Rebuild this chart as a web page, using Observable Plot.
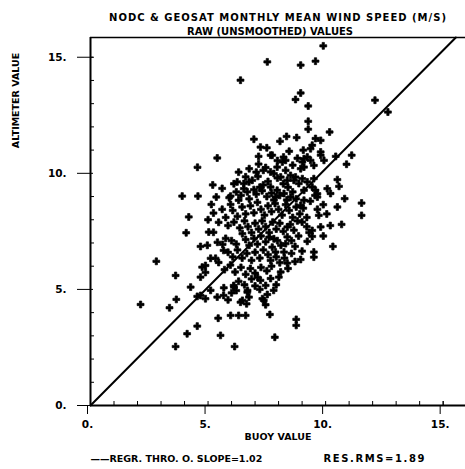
<!DOCTYPE html>
<html><head><meta charset="utf-8">
<script src="https://cdn.jsdelivr.net/npm/d3@7"></script>
<script src="https://cdn.jsdelivr.net/npm/@observablehq/plot@0.6"></script>
<style>
body{margin:0;background:#fff;}
#c{width:465px;height:469px;overflow:hidden;}
svg text{font-family:"DejaVu Sans",sans-serif;font-weight:bold;}
</style></head><body><div id="c"></div>
<script>
const titleLine1 = "NODC & GEOSAT MONTHLY MEAN WIND SPEED (M/S)";
const titleLine2 = "RAW (UNSMOOTHED) VALUES";
const xLabel = "BUOY VALUE";
const yLabel = "ALTIMETER VALUE";
const legendLabel = "\u2014\u2014REGR. THRO. O. SLOPE=1.02";
const rmsLabel = "RES.RMS=1.89";
const slope = 1.02;
const xMax = 15.95;
const yMax = 15.85;
const majorTicks = [0, 5, 10, 15];
const minorTicks = [1,2,3,4,6,7,8,9,11,12,13,14,15];
const majorTickLabels = ["0.", "5.", "10.", "15."];

// [buoy value, altimeter value]
const samples = [
  [7.52,14.80],[6.38,14.01],[9.90,15.49],[8.94,14.66],[9.57,14.83],[8.94,13.46],[8.72,13.18],[9.26,12.90],
  [12.10,13.15],[12.65,12.64],[9.26,12.24],[9.26,11.90],[10.17,11.78],[8.34,11.59],[8.06,11.38],[8.77,11.54],
  [9.57,11.50],[9.79,11.42],[9.43,11.21],[6.95,11.47],[7.23,11.13],[5.39,10.66],[7.15,10.73],[7.66,10.78],
  [4.55,10.26],[11.11,10.78],[10.43,10.73],[10.89,10.39],[7.73,10.78],[8.21,10.70],[9.79,10.78],
  [10.50,9.73],[10.57,9.44],[10.07,9.34],[10.21,9.13],[10.81,8.91],[10.50,8.55],[11.53,8.72],[11.53,8.19],
  [10.68,7.80],[9.79,7.69],[9.71,8.19],[10.31,6.85],[9.50,6.61],[9.50,6.39],[9.22,7.07],[8.94,6.29],
  [8.37,6.13],[8.09,5.75],[8.01,5.53],[9.43,7.54],[9.43,7.28],
  [3.90,9.02],[4.57,9.02],[5.35,8.98],[5.96,9.02],[5.14,8.66],[5.96,8.66],[6.30,8.84],[4.18,8.12],
  [5.23,8.29],[4.07,7.44],[2.80,6.21],[3.62,5.60],[4.26,5.10],[3.65,4.57],[3.36,4.21],[2.13,4.35],
  [4.68,5.53],[4.54,3.42],[4.11,3.09],[3.62,2.54],[5.43,3.76],[5.53,3.02],[6.13,2.54],[5.96,3.88],
  [6.30,3.88],[6.60,3.88],[7.84,2.94],[7.63,3.92],[7.37,4.53],[6.46,4.53],[6.74,4.67],[6.10,5.10],
  [5.67,5.07],[5.39,4.67],[4.89,4.60],[4.54,4.70],[4.75,5.96],[4.89,6.03],[4.68,6.85],[4.97,6.90],
  [5.03,7.47],[6.46,7.40],[8.75,3.71],[8.75,3.45],[7.52,4.78],[7.31,4.60],[7.45,4.34],[6.67,4.88],
  [6.38,4.45],[6.64,4.38],
  [5.45,7.89],[5.23,7.46],[5.40,7.03],[5.62,6.94],[5.66,6.68],[5.11,6.34],[5.32,6.34],[5.45,6.16],
  [4.89,5.73],[4.68,4.74],[5.11,4.96],[5.66,4.74],[6.09,5.17],[6.68,4.96],[7.11,5.52],[7.23,5.39],
  [7.66,5.47],[7.45,5.17],[7.79,4.96],
  [7.35,10.13],[7.12,9.87],[7.66,10.06],[6.24,9.63],[6.52,9.56],[6.74,9.63],[6.88,9.70],[6.52,9.34],[6.67,9.20],
  [9.36,11.06],[8.30,10.56],[8.16,10.49],[9.08,10.63],[9.22,10.70],[9.01,10.49],[9.36,10.56],[8.94,10.20],
  [9.08,10.27],[9.50,10.34],[9.79,10.92],[9.93,10.56],[7.94,10.27],[8.30,10.13],[7.80,9.99],[8.09,9.84],
  [8.37,9.70],[8.51,9.91],[8.72,9.84],[8.86,9.56],[9.01,9.77],[9.22,9.63],[9.50,9.77],[9.43,9.41],
  [7.66,9.41],[7.94,9.27],[8.23,9.13],[8.51,8.98],[7.87,8.98],[9.57,9.27],[9.65,8.98],[9.08,9.27],
  [9.65,9.12],[9.08,8.84],[8.94,8.62],
  [8.37,7.69],[8.37,7.26],[8.30,6.97],[8.23,6.61],[7.80,7.18],[7.73,6.82],[7.87,6.61],[7.66,6.25],
  [9.00,7.90],[9.20,7.70],[9.30,7.45],
  [6.05,8.40],[6.25,8.15],[6.45,8.55],[6.60,8.25],[6.80,8.60],[6.95,8.30],[7.10,8.75],[7.25,8.45],
  [7.40,8.20],[7.55,8.60],[7.70,8.35],[7.85,8.70],[8.00,8.45],[8.15,8.20],[8.30,8.65],[8.45,8.40],
  [8.60,8.10],[8.75,8.55],[8.90,8.25],[9.05,8.50],
  [6.10,7.90],[6.35,7.65],[6.55,7.95],[6.70,7.70],[6.85,7.45],[7.00,7.85],[7.15,7.60],[7.30,7.95],
  [7.45,7.70],[7.60,7.45],[7.75,7.90],[7.90,7.60],[8.05,7.85],[8.20,7.50],[8.50,7.80],[8.65,7.55],[8.80,7.95],
  [5.75,7.20],[6.00,7.10],[6.20,6.95],[6.60,7.15],[6.75,6.90],[6.95,7.20],[7.10,6.95],[7.25,7.30],
  [7.45,7.05],[7.60,7.25],[7.95,7.10],[8.10,6.90],[8.55,7.10],[8.70,6.85],[8.85,7.30],
  [5.85,6.60],[6.05,6.40],[6.25,6.70],[6.45,6.35],[6.65,6.55],[6.85,6.25],[7.00,6.60],[7.20,6.35],
  [7.35,6.70],[7.55,6.50],[7.90,6.40],[8.05,6.15],[8.25,6.35],[8.55,6.55],
  [5.70,5.85],[5.95,6.05],[6.15,5.75],[6.40,5.95],[6.60,5.65],[6.80,5.90],[7.00,5.70],[7.25,5.95],
  [7.50,5.80],[7.70,6.00],[6.30,5.35],[6.55,5.20],[6.85,5.45],[7.00,5.15],
  [6.40,9.05],[6.75,8.90],[7.05,9.10],[7.30,9.25],[7.50,9.00],[7.70,9.15],[7.35,9.50],[7.55,9.65],
  [7.20,9.40],[6.95,9.30],[7.80,8.85],[8.05,9.05],[8.35,8.85],[8.60,9.20],[8.75,8.90],[8.40,9.40],
  [8.65,9.70],[8.20,9.55],[7.95,9.80],[7.45,10.25],[7.15,10.40],[6.75,10.20],[7.95,10.55],[8.60,10.35],
  [8.80,10.65],[8.45,10.95],[9.05,11.00],[7.50,11.10],
  [5.60,8.45],[5.75,8.10],[5.85,7.75],[6.20,9.20],[5.60,9.35],[6.10,9.55],[6.60,9.85],[6.30,10.05],
  [7.05,10.05],[9.20,8.10],[9.35,8.80],[9.55,9.05],[9.65,8.45],[9.90,8.65],[10.05,8.25],[10.20,7.75],
  [9.90,7.30],[9.00,6.65],[8.70,6.20],[8.40,5.90],[6.00,4.85],[6.20,4.95],[5.85,4.55],[7.20,5.00],
  [7.90,5.20],[5.90,8.95],[5.20,9.50],[5.00,8.00]
];

const regression = [[0, 0], [yMax / slope, yMax]];

const chart = Plot.plot({
  width: 465,
  height: 469,
  marginLeft: 90,
  marginRight: 0,
  marginTop: 37,
  marginBottom: 64,
  style: {background: "#fff", color: "#000", fontSize: "10px", fontFamily: "DejaVu Sans, sans-serif"},
  x: {domain: [0, xMax]},
  y: {domain: [0, yMax]},
  marks: [
    Plot.ruleY([yMax], {stroke: "#000", strokeWidth: 1.5}),
    Plot.ruleX([0], {stroke: "#000", strokeWidth: 2}),
    Plot.ruleY([0], {stroke: "#000", strokeWidth: 2}),
    Plot.axisX({ticks: majorTicks, tickSize: 9, tickPadding: 6, tickWidth: 2, dx: -3,
      tickFormat: (d, i) => majorTickLabels[i], fontWeight: "bold", fontSize: 10.5, label: null}),
    Plot.axisX({ticks: majorTicks, tickSize: -4, tickWidth: 2, text: null, label: null}),
    Plot.axisX({ticks: minorTicks, tickSize: -4, tickWidth: 1.5, text: null, label: null}),
    Plot.axisY({ticks: majorTicks, tickSize: 13, tickPadding: 11, tickWidth: 2,
      tickFormat: (d, i) => majorTickLabels[i], fontWeight: "bold", fontSize: 10.5, label: null}),
    Plot.axisY({ticks: majorTicks, tickSize: -3, tickWidth: 2, text: null, label: null}),
    Plot.axisY({ticks: minorTicks, tickSize: -4, tickWidth: 1.5, text: null, label: null}),
    Plot.line(regression, {x: d => d[0], y: d => d[1], stroke: "#000", strokeWidth: 2}),
    Plot.dot(samples, {x: d => d[0], y: d => d[1], symbol: "cross", r: 2.9, fill: "#000", stroke: "#000", strokeWidth: 0.7}),
    Plot.text([titleLine1], {frameAnchor: "top", dy: -24, fontSize: 10, fontWeight: "bold"}),
    Plot.text([titleLine2], {frameAnchor: "top", dx: -8, dy: -10, fontSize: 10, fontWeight: "bold"}),
    Plot.text([xLabel], {frameAnchor: "bottom", dy: 34, fontSize: 9.5, fontWeight: "bold"}),
    Plot.text([yLabel], {frameAnchor: "left", textAnchor: "middle", dx: -75, dy: -121, rotate: -90, fontSize: 9.5, fontWeight: "bold"}),
    Plot.text([legendLabel], {frameAnchor: "bottom-left", textAnchor: "start", dx: 0, dy: 56, fontSize: 9.5, fontWeight: "bold"}),
    Plot.text([rmsLabel], {frameAnchor: "bottom-left", textAnchor: "start", dx: 233, dy: 56, fontSize: 10, fontWeight: "bold"})
  ]
});
// widen the lettering to the reference's line widths
const sel = d3.select(chart).selectAll("text");
sel.filter(function() { return this.textContent === titleLine1; })
  .style("letter-spacing", "1px");
sel.filter(function() { return this.textContent === rmsLabel; })
  .style("letter-spacing", "1.6px");
document.getElementById("c").appendChild(chart);
</script>
</body></html>
